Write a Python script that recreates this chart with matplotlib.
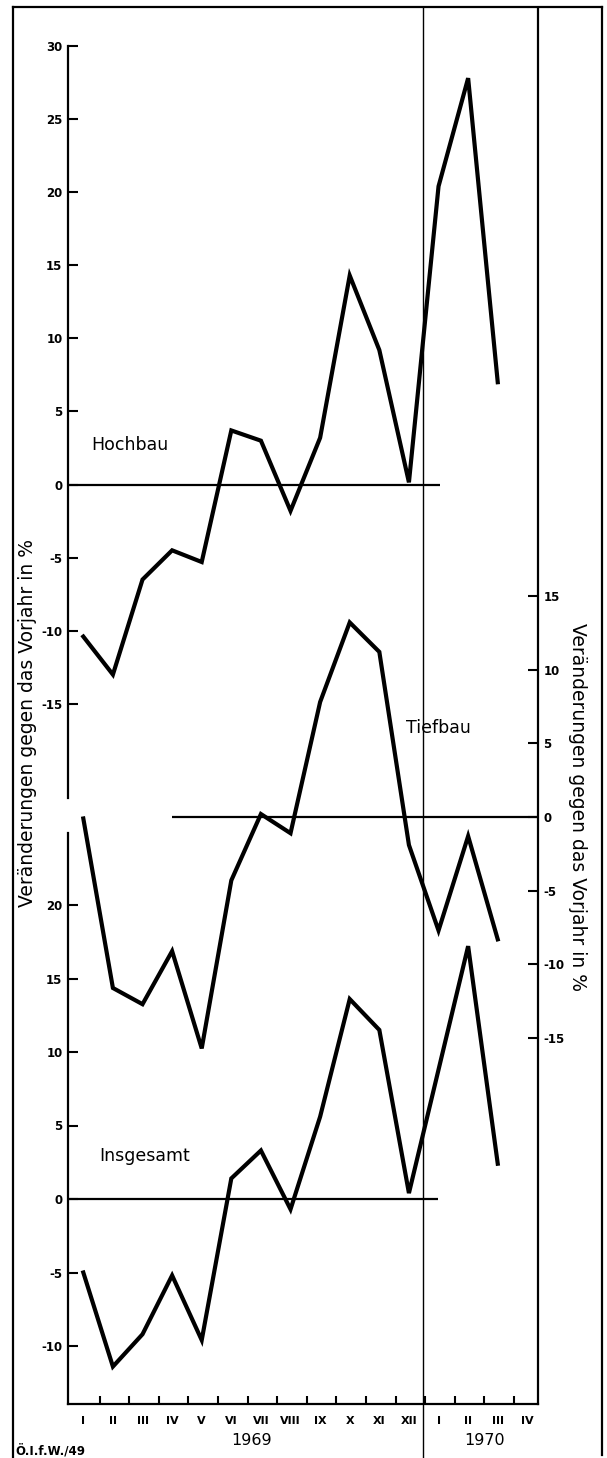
import matplotlib
matplotlib.use("Agg")

import numpy as np
import matplotlib.pyplot as plt
from matplotlib.lines import Line2D

# months Jan 1969 .. Apr 1970
months = ["I", "II", "III", "IV", "V", "VI", "VII", "VIII", "IX", "X", "XI", "XII",
          "I", "II", "III", "IV"]
years = ["1969", "1970"]

# change against previous year in %
hochbau = [-10.4, -13.0, -6.5, -4.5, -5.3, 3.7, 3.0, -1.8, 3.2, 14.3, 9.2, 0.15, 20.4, 27.8, 7.0]
tiefbau = [-0.1, -11.6, -12.7, -9.1, -15.7, -4.3, 0.2, -1.1, 7.8, 13.2, 11.2, -1.9, -7.7, -1.3, -8.3]
insgesamt = [-5.0, -11.4, -9.2, -5.2, -9.6, 1.4, 3.3, -0.7, 5.6, 13.6, 11.5, 0.4, 8.8, 17.2, 2.4]

ylabel = "Veränderungen gegen das Vorjahr in %"

plt.rcParams["font.family"] = ["DejaVu Sans"]
plt.rcParams["axes.unicode_minus"] = False

W, H = 607, 1458
fig = plt.figure(figsize=(W / 100, H / 100), dpi=100)
fig.patch.set_facecolor("white")

XL = (-0.517, 15.36)
LEFT, RIGHT = 68, 538


def make_axes(top, bottom, zero, ppu):
    """axes placed by pixel box, ylim so that value 0 sits at pixel `zero`"""
    ax = fig.add_axes([LEFT / W, 1 - bottom / H, (RIGHT - LEFT) / W, (bottom - top) / H])
    ax.set_facecolor("none")
    ax.set_xlim(*XL)
    ax.set_ylim((zero - bottom) / ppu, (zero - top) / ppu)
    for s in ax.spines.values():
        s.set_visible(False)
        s.set_linewidth(1.6)
    ax.set_xticks([])
    return ax


x = np.arange(len(hochbau))

# --- Hochbau (top, left scale)
ax_h = make_axes(46.0, 798, 484.5, 14.62)
ax_h.spines["left"].set_visible(True)
ax_h.set_yticks(np.arange(-15, 31, 5))
ax_h.tick_params(axis="y", direction="in", length=7, width=1.5, pad=4, labelsize=8.5)
for t in ax_h.get_yticklabels():
    t.set_fontweight("bold")
ax_h.plot(x, hochbau, color="black", lw=3.0, solid_joinstyle="miter")
ax_h.hlines(0, XL[0], 12.05, color="black", lw=1.6)
ax_h.text(1.58, 2.7, "Hochbau", fontsize=12.5, ha="center", va="center")

# --- Tiefbau (middle, right scale)
ax_t = make_axes(8, 1404, 817, 14.74)
ax_t.spines["right"].set_visible(True)
ax_t.yaxis.tick_right()
ax_t.set_yticks(np.arange(-15, 16, 5))
ax_t.tick_params(axis="y", direction="in", length=7, width=1.5, pad=4, labelsize=8.5)
for t in ax_t.get_yticklabels():
    t.set_fontweight("bold")
ax_t.plot(x, tiefbau, color="black", lw=3.0, solid_joinstyle="miter")
ax_t.hlines(0, 3.0, XL[1], color="black", lw=1.6)
ax_t.text(12.0, 6.05, "Tiefbau", fontsize=12.5, ha="center", va="center")
# year divider between XII and I
ax_t.axvline(11.47, ymin=-(H - 1404) / (1404 - 8), ymax=1, color="black", lw=1.0, clip_on=False)

# --- Insgesamt (bottom, left scale + month axis)
ax_i = make_axes(833, 1404, 1199, 14.7)
ax_i.spines["left"].set_visible(True)
ax_i.spines["bottom"].set_visible(True)
ax_i.set_yticks(np.arange(-10, 21, 5))
ax_i.tick_params(axis="y", direction="in", length=7, width=1.5, pad=4, labelsize=8.5)
for t in ax_i.get_yticklabels():
    t.set_fontweight("bold")
ax_i.set_xticks(np.arange(len(months)))
ax_i.set_xticklabels(months, fontsize=8, fontweight="bold")
ax_i.set_xticks(np.arange(len(months) - 1) + 0.55, minor=True)
ax_i.tick_params(axis="x", which="major", length=0, pad=9)
ax_i.tick_params(axis="x", which="minor", direction="in", length=6, width=1.5)
ax_i.plot(x, insgesamt, color="black", lw=3.0, solid_joinstyle="miter")
ax_i.hlines(0, XL[0], 11.98, color="black", lw=1.6)
ax_i.text(2.08, 2.9, "Insgesamt", fontsize=12.5, ha="center", va="center")

# year captions below the month labels
ax_i.text(5.7, -0.064, years[0], transform=ax_i.get_xaxis_transform(),
          fontsize=11.5, ha="center", va="center")
ax_i.text(13.57, -0.064, years[1], transform=ax_i.get_xaxis_transform(),
          fontsize=11.5, ha="center", va="center")

# axis titles
fig.text(28 / W, 1 - 723 / H, ylabel, rotation=90, fontsize=13.5, ha="center", va="center")
fig.text(577 / W, 1 - 807 / H, ylabel, rotation=-90, fontsize=13.5, ha="center", va="center")

# outer frame (open at the bottom)
for xs, ys in [([13, 13], [7, H]), ([13, 602], [7, 7]), ([602, 602], [7, 1455])]:
    fig.add_artist(Line2D([v / W for v in xs], [1 - v / H for v in ys],
                          transform=fig.transFigure, color="black", lw=1.6))

fig.text(15 / W, 1 - 1451 / H, "Ö.I.f.W./49", fontsize=8.5, fontweight="bold",
         ha="left", va="center")

fig.savefig("out.png", dpi=100, facecolor="white")
plt.close(fig)
